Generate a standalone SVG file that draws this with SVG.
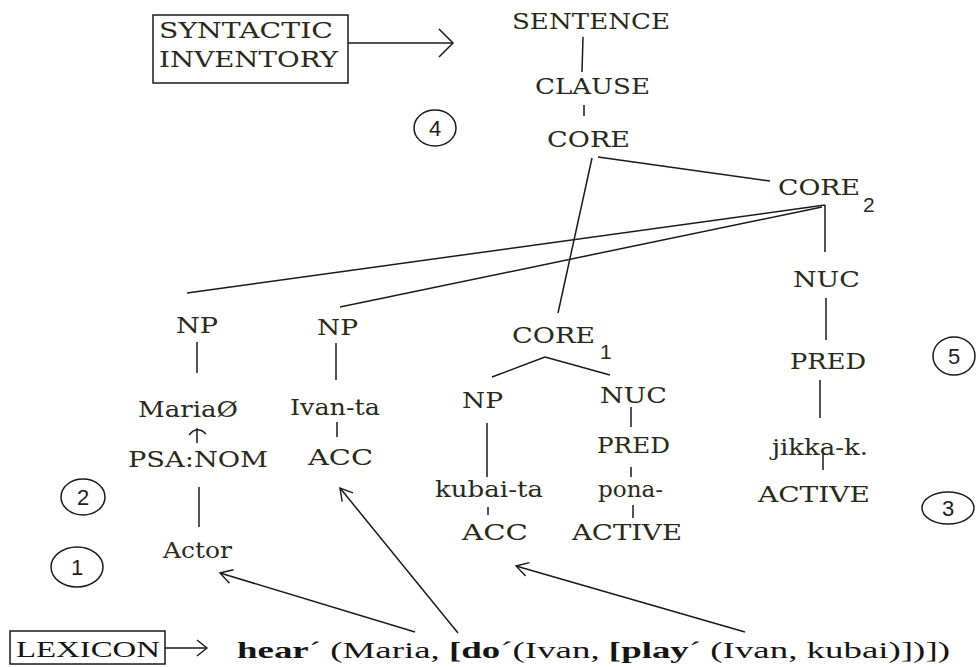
<svg xmlns="http://www.w3.org/2000/svg" width="977" height="667" viewBox="0 0 977 667">
  <style>
    .lab{font-family:"DejaVu Serif","Liberation Serif",serif;font-size:23px;fill:#2b2a1a}
    .sub{font-family:"Liberation Sans",Arial,sans-serif;font-size:21px;fill:#2b2a1a}
    .num{font-family:"Liberation Sans",Arial,sans-serif;font-size:22px;fill:#1e1e1e;text-anchor:middle}
    .tm{font-family:"Liberation Serif","Times New Roman",serif;font-size:23px;fill:#151515}
    .ln{stroke:#1a1a1a;stroke-width:1.5;fill:none}
    .ring{stroke:#1a1a1a;stroke-width:1.5;fill:none}
    .box{stroke:#1a1a1a;stroke-width:1.5;fill:#fff}
    .b{font-weight:bold}
  </style>
  <defs>
    <marker id="open" viewBox="0 0 12 14" refX="12" refY="7" markerWidth="12" markerHeight="14" markerUnits="userSpaceOnUse" orient="auto" overflow="visible">
      <path d="M0,0 L12,7 L0,14" fill="none" stroke="#1a1a1a" stroke-width="1.4"/>
    </marker>
    <marker id="big" viewBox="0 0 14 28" refX="14" refY="14" markerWidth="14" markerHeight="28" markerUnits="userSpaceOnUse" orient="auto" overflow="visible">
      <path d="M0,0 L14,14 L0,28" fill="none" stroke="#1a1a1a" stroke-width="1.5"/>
    </marker>
    <marker id="small" viewBox="0 0 10 16" refX="10" refY="8" markerWidth="10" markerHeight="16" markerUnits="userSpaceOnUse" orient="auto" overflow="visible">
      <path d="M0,0 L10,8 L0,16" fill="none" stroke="#1a1a1a" stroke-width="1.4"/>
    </marker>
  </defs>

  <!-- tree edges and mapping arrows -->
  <g id="connectors" class="ln">
    <line x1="348" y1="43" x2="453" y2="43" marker-end="url(#big)"/>
    <line x1="165" y1="648" x2="207" y2="648" marker-end="url(#small)"/>
    <line x1="583" y1="37" x2="582" y2="72"/>
    <line x1="584" y1="105" x2="584" y2="116"/>
    <line x1="592" y1="158" x2="558" y2="313"/>
    <line x1="598" y1="157" x2="770" y2="181"/>
    <line x1="825" y1="205" x2="187" y2="293"/>
    <line x1="822" y1="207" x2="340" y2="307"/>
    <line x1="825" y1="205" x2="825" y2="252"/>
    <line x1="826" y1="298" x2="826" y2="340"/>
    <line x1="820" y1="380" x2="820" y2="418"/>
    <line x1="823" y1="452" x2="823" y2="470"/>
    <line x1="197" y1="342" x2="197" y2="373"/>
    <line x1="197" y1="443" x2="197" y2="428"/>
    <path d="M189,435 Q197,425 206,434"/>
    <line x1="199" y1="487" x2="199" y2="527"/>
    <line x1="336" y1="343" x2="336" y2="380"/>
    <line x1="337" y1="422" x2="337" y2="437"/>
    <line x1="545" y1="357" x2="492" y2="377"/>
    <line x1="545" y1="357" x2="610" y2="375"/>
    <line x1="487" y1="423" x2="487" y2="477"/>
    <line x1="631" y1="407" x2="631" y2="427"/>
    <line x1="631" y1="467" x2="631" y2="477"/>
    <line x1="488" y1="507" x2="488" y2="515"/>
    <line x1="633" y1="505" x2="633" y2="518"/>
    <line x1="415" y1="632" x2="220" y2="573" marker-end="url(#open)"/>
    <line x1="458" y1="633" x2="340" y2="488" marker-end="url(#open)"/>
    <line x1="745" y1="632" x2="516" y2="566" marker-end="url(#open)"/>
  </g>

  <g id="syntactic-inventory">
    <rect class="box" x="153" y="15" width="195" height="68"/>
    <text class="lab" x="159" y="38" textLength="174" lengthAdjust="spacingAndGlyphs">SYNTACTIC</text>
    <text class="lab" x="159" y="67" textLength="179" lengthAdjust="spacingAndGlyphs">INVENTORY</text>
  </g>

  <g id="sentence"><text class="lab" x="512" y="29" textLength="158" lengthAdjust="spacingAndGlyphs">SENTENCE</text></g>
  <g id="clause"><text class="lab" x="535" y="94" textLength="115" lengthAdjust="spacingAndGlyphs">CLAUSE</text></g>
  <g id="core"><text class="lab" x="547" y="147" textLength="83" lengthAdjust="spacingAndGlyphs">CORE</text></g>
  <g id="core2">
    <text class="lab" x="778" y="195" textLength="82" lengthAdjust="spacingAndGlyphs">CORE</text>
    <text class="sub" x="863" y="212">2</text>
  </g>
  <g id="nuc2"><text class="lab" x="793" y="287" textLength="67" lengthAdjust="spacingAndGlyphs">NUC</text></g>
  <g id="pred2"><text class="lab" x="790" y="369" textLength="76" lengthAdjust="spacingAndGlyphs">PRED</text></g>
  <g id="jikka"><text class="lab" x="772" y="455" textLength="96" lengthAdjust="spacingAndGlyphs">jikka-k.</text></g>
  <g id="active2"><text class="lab" x="758" y="502" textLength="112" lengthAdjust="spacingAndGlyphs">ACTIVE</text></g>

  <g id="np-maria"><text class="lab" x="176" y="333" textLength="42" lengthAdjust="spacingAndGlyphs">NP</text></g>
  <g id="maria"><text class="lab" x="138" y="417" textLength="100" lengthAdjust="spacingAndGlyphs">MariaØ</text></g>
  <g id="psa-nom"><text class="lab" x="128" y="467" textLength="140" lengthAdjust="spacingAndGlyphs">PSA:NOM</text></g>
  <g id="actor"><text class="lab" x="163" y="558" textLength="69" lengthAdjust="spacingAndGlyphs">Actor</text></g>

  <g id="np-ivan"><text class="lab" x="317" y="335" textLength="41" lengthAdjust="spacingAndGlyphs">NP</text></g>
  <g id="ivan"><text class="lab" x="290" y="415" textLength="90" lengthAdjust="spacingAndGlyphs">Ivan-ta</text></g>
  <g id="acc-ivan"><text class="lab" x="308" y="465" textLength="65" lengthAdjust="spacingAndGlyphs">ACC</text></g>

  <g id="core1">
    <text class="lab" x="512" y="343" textLength="83" lengthAdjust="spacingAndGlyphs">CORE</text>
    <text class="sub" x="600" y="359">1</text>
  </g>
  <g id="np-kubai"><text class="lab" x="462" y="408" textLength="41" lengthAdjust="spacingAndGlyphs">NP</text></g>
  <g id="kubai"><text class="lab" x="435" y="497" textLength="108" lengthAdjust="spacingAndGlyphs">kubai-ta</text></g>
  <g id="acc-kubai"><text class="lab" x="462" y="540" textLength="66" lengthAdjust="spacingAndGlyphs">ACC</text></g>
  <g id="nuc1"><text class="lab" x="600" y="403" textLength="67" lengthAdjust="spacingAndGlyphs">NUC</text></g>
  <g id="pred1"><text class="lab" x="597" y="453" textLength="73" lengthAdjust="spacingAndGlyphs">PRED</text></g>
  <g id="pona"><text class="lab" x="598" y="497" textLength="65" lengthAdjust="spacingAndGlyphs">pona-</text></g>
  <g id="active1"><text class="lab" x="572" y="540" textLength="110" lengthAdjust="spacingAndGlyphs">ACTIVE</text></g>

  <!-- numbered steps -->
  <g id="step1"><ellipse class="ring" cx="77" cy="567" rx="26" ry="20"/><text class="num" x="77" y="575">1</text></g>
  <g id="step2"><ellipse class="ring" cx="83" cy="497" rx="22" ry="18"/><text class="num" x="83" y="505">2</text></g>
  <g id="step3"><ellipse class="ring" cx="948" cy="508" rx="26" ry="16"/><text class="num" x="948" y="516">3</text></g>
  <g id="step4"><ellipse class="ring" cx="435" cy="128" rx="21" ry="18"/><text class="num" x="435" y="136">4</text></g>
  <g id="step5"><ellipse class="ring" cx="954" cy="356" rx="21" ry="19"/><text class="num" x="954" y="364">5</text></g>

  <g id="lexicon">
    <rect class="box" x="10" y="631" width="155" height="33"/>
    <text class="tm" x="16" y="657" font-size="24" textLength="144" lengthAdjust="spacingAndGlyphs">LEXICON</text>
  </g>

  <g id="logical-structure">
    <text class="tm" x="237" y="658" textLength="713" lengthAdjust="spacingAndGlyphs"><tspan class="b">hear</tspan>´ (Maria, <tspan class="b">[do</tspan>´(Ivan, <tspan class="b">[play</tspan>´ (Ivan, kubai)])])</text>
  </g>
</svg>
